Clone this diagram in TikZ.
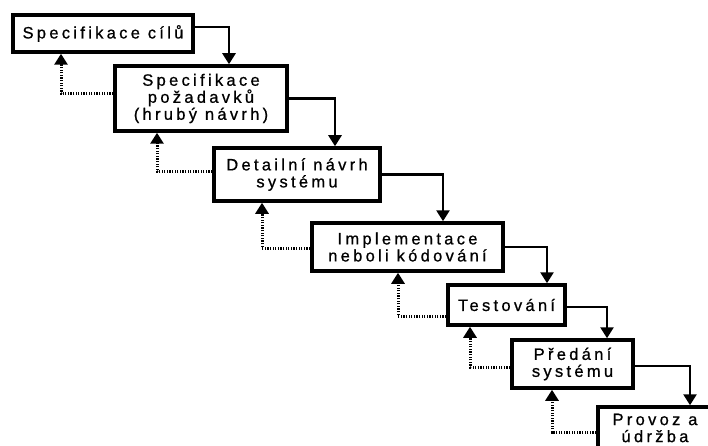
\documentclass[tikz,border=0pt]{standalone}
\usepackage{fontspec}
\setmainfont[LetterSpace=20,FakeBold=0.8]{Liberation Sans}
\usetikzlibrary{arrows.meta}
\tikzset{
  box/.style={draw=black, line width=3.5pt, rectangle, inner sep=0pt, align=center,
    font=\fontsize{16.5pt}{17pt}\selectfont, fill=white},
  fwd/.style={draw=black, line width=2.6pt, -{Triangle[width=13pt,length=11pt]}},
  back/.style={draw=black, line width=3pt, dash pattern=on 1.3pt off 1.3pt,
    -{Triangle[width=13pt,length=11pt]}},
}
\begin{document}
\begin{tikzpicture}[x=1pt,y=-1pt]
\useasboundingbox (0,0) rectangle (708,446);
\clip (0,0) rectangle (708,446);
\node[box, minimum width=180pt, minimum height=37pt] (b1) at (103,33.5) {Specifikace cílů};
\node[box, minimum width=172pt, minimum height=65pt] (b2) at (201,98.5) {Specifikace\\požadavků\\(hrubý návrh)};
\node[box, minimum width=166pt, minimum height=53pt] (b3) at (297,174.5) {Detailní návrh\\systému};
\node[box, minimum width=191pt, minimum height=48pt] (b4) at (407.5,247) {Implementace\\neboli kódování};
\node[box, minimum width=117pt, minimum height=40pt] (b5) at (506.5,305) {Testování};
\node[box, minimum width=121pt, minimum height=48pt] (b6) at (572.5,364) {Předání\\systému};
\node[box, minimum width=114pt, minimum height=42pt] (b7) at (655,428) {Provoz a\\údržba};
% forward
\draw[fwd] ([yshift=6.5pt]b1.east) -| ([xshift=28pt]b2.north);
\draw[fwd] (b2.east) -| ([xshift=38pt]b3.north);
\draw[fwd] (b3.east) -| ([xshift=35.5pt]b4.north);
\draw[fwd] (b4.east) -| ([xshift=40.5pt]b5.north);
\draw[fwd] ([yshift=-2pt]b5.east) -| ([xshift=34.5pt]b6.north);
\draw[fwd] ([yshift=-2pt]b6.east) -| ([xshift=35pt]b7.north);
% feedback
\draw[back] ([yshift=4.5pt]b2.west) -| ([xshift=-42pt]b1.south);
\draw[back] ([yshift=2.5pt]b3.west) -| ([xshift=-44pt]b2.south);
\draw[back] ([yshift=-1pt]b4.west) -| ([xshift=-35pt]b3.south);
\draw[back] ([yshift=-11pt]b5.west) -| ([xshift=-9.5pt]b4.south);
\draw[back] ([yshift=-3pt]b6.west) -| ([xshift=-36.5pt]b5.south);
\draw[back] ([yshift=-4pt]b7.west) -| ([xshift=-20.5pt]b6.south);
\end{tikzpicture}
\end{document}
